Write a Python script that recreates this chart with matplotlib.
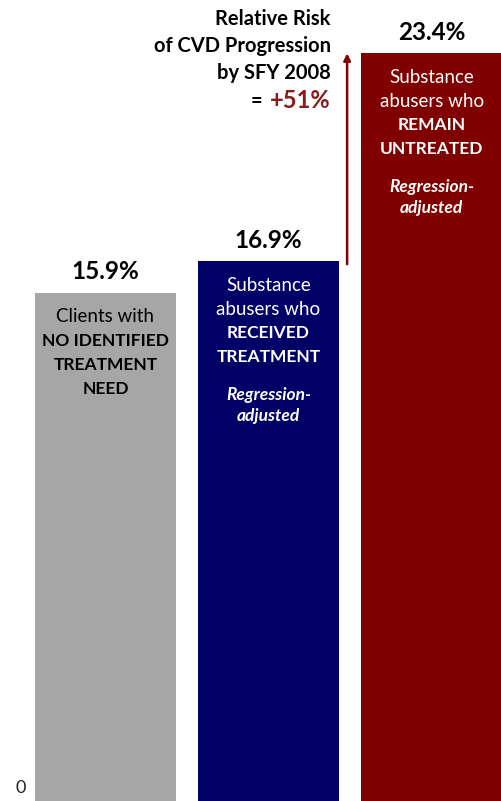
import matplotlib
matplotlib.use("Agg")
import matplotlib.pyplot as plt

plt.rcParams['font.family'] = ['Lato', 'DejaVu Sans']

groups = ["No identified need", "Received treatment", "Remain untreated"]
values = [15.9, 16.9, 23.4]
colors = ["#a6a6a6", "#000066", "#800000"]
value_labels = ["15.9%", "16.9%", "23.4%"]

# inner text lines: (text, weight, style)
inner = [
    [("Clients with", "normal", "normal"),
     ("NO IDENTIFIED", "bold", "normal"),
     ("TREATMENT", "bold", "normal"),
     ("NEED", "bold", "normal")],
    [("Substance", "normal", "normal"),
     ("abusers who", "normal", "normal"),
     ("RECEIVED", "bold", "normal"),
     ("TREATMENT", "bold", "normal"),
     ("Regression-", "bold", "italic"),
     ("adjusted", "bold", "italic")],
    [("Substance", "normal", "normal"),
     ("abusers who", "normal", "normal"),
     ("REMAIN", "bold", "normal"),
     ("UNTREATED", "bold", "normal"),
     ("Regression-", "bold", "italic"),
     ("adjusted", "bold", "italic")],
]
inner_color = ["black", "white", "white"]
line_offsets = [-24, -48, -72, -96, -134, -155]

fig = plt.figure(figsize=(5.02, 8.01), dpi=100)
ax = fig.add_axes([0, 0, 1, 1])
x = list(range(len(values)))
ax.bar(x, values, width=0.865, color=colors)
ax.set_xlim(-0.647, 2.432)
ax.set_ylim(0, 25.07)
ax.axis("off")

for i, v in enumerate(values):
    ax.annotate(value_labels[i], (i, v), xytext=(0, 21), textcoords="offset pixels",
                ha="center", va="center", fontsize=17.5, fontweight="bold", color="black")
    for k, (t, w, s) in enumerate(inner[i]):
        fs = 13.5 if w == "normal" else 12.5
        ax.annotate(t, (i, v), xytext=(0, line_offsets[k]), textcoords="offset pixels",
                    ha="center", va="center", fontsize=fs, fontweight=w, fontstyle=s,
                    color=inner_color[i])

ax.text(-0.49, 0.4, "0", ha="right", va="center", fontsize=13, color="#222222")

# arrow showing increase from treated to untreated
ax.annotate("", xy=(1.482, values[2]), xytext=(1.482, values[1] - 0.1),
            arrowprops=dict(arrowstyle="-|>", color="#800000", lw=1.8,
                            mutation_scale=10, shrinkA=0, shrinkB=0))

title_lines = ["Relative Risk", "of CVD Progression", "by SFY 2008"]
ys = [19, 46, 73]
for t, yy in zip(title_lines, ys):
    fig.text(331 / 502, 1 - yy / 801, t, ha="right", va="center",
             fontsize=14.5, fontweight="bold", color="black")
fig.text(331 / 502, 1 - 101 / 801, "+51%", ha="right", va="center",
         fontsize=17, fontweight="bold", color="#8b1a1a")
fig.text(262 / 502, 1 - 101 / 801, "=", ha="right", va="center",
         fontsize=14.5, fontweight="bold", color="black")

fig.savefig("out.png", dpi=100)
